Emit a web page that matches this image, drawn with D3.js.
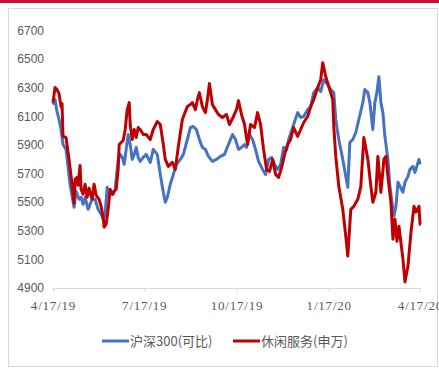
<!DOCTYPE html>
<html>
<head>
<meta charset="utf-8">
<script src="https://cdn.jsdelivr.net/npm/d3@7"></script>
<style>
  body { margin: 0; background: #fff; }
  svg { display: block; }
</style>
</head>
<body>
<div id="chart"></div>
<script>
// data, days counted from 4/17/19
const startDate = new Date(2019, 3, 17);
const yTicks = [4900, 5100, 5300, 5500, 5700, 5900, 6100, 6300, 6500, 6700];
const xTicks = ["2019-04-17", "2019-07-17", "2019-10-17", "2020-01-17", "2020-04-17"];
const seriesNames = ["沪深300(可比)", "休闲服务(申万)"];
const seriesColors = ["#4472c4", "#c00000"];

const hs300Days = [0,2,4,6,8,10,13,17,21,23,26,28,30,32,35,37,39,42,45,48,50,52,54,56,58,60,62,65,67,69,71,73,75,77,79,81,83,85,87,90,93,97,100,104,107,110,112,114,117,120,123,127,130,134,137,140,143,146,149,152,155,159,163,167,171,175,179,182,185,188,191,193,196,199,202,205,209,212,215,218,221,224,227,230,233,235,240,244,247,250,254,257,260,264,267,270,274,277,280,282,285,289,292,294,296,299,302,305,309,311,314,316,319,321,323,325,327,329,331,334,336,338,340,342,344,346,349,351,354,356,359,361,364,365,366];
const hs300Vals = [6182,6217,6133,6078,6008,5903,5869,5625,5464,5576,5520,5534,5485,5534,5450,5485,5520,5520,5450,5416,5381,5416,5604,5555,5576,5555,5590,5799,5834,5813,5764,5869,5973,5903,5799,5834,5883,5813,5785,5813,5834,5778,5869,5834,5694,5569,5499,5534,5625,5694,5764,5799,5834,5938,6022,6029,6008,5938,5883,5869,5820,5785,5799,5820,5834,5903,5973,5938,5869,5883,5903,5883,5973,5938,5869,5785,5729,5694,5799,5813,5764,5729,5764,5883,5869,5938,6043,6126,6092,6099,6147,6168,6266,6301,6273,6356,6322,6287,6266,6078,5938,5799,5680,5604,5917,5938,5987,6078,6196,6287,6266,6196,6008,6196,6266,6377,6196,6126,5959,5799,5611,5499,5402,5471,5639,5611,5569,5639,5680,5729,5750,5708,5778,5799,5764];

const leisureDays = [0,2,4,6,8,9,10,13,16,19,21,22,24,25,27,28,30,32,34,36,37,39,41,43,46,48,50,51,53,55,57,59,61,63,65,66,68,70,72,74,76,77,79,81,83,85,87,90,93,97,100,104,107,110,112,115,117,119,122,125,129,132,134,137,139,142,144,146,149,152,154,156,159,162,165,169,173,176,180,183,185,188,191,194,197,201,204,207,210,213,216,219,222,225,228,231,234,237,240,244,247,250,254,257,260,264,267,269,272,275,279,280,282,285,289,292,294,297,300,304,307,310,314,317,319,322,324,327,330,332,334,337,339,341,343,345,349,351,354,357,360,362,365,366,367];
const leisureVals = [6196,6301,6287,6259,6168,6189,5959,5952,5799,5625,5492,5660,5673,5618,5757,5590,5555,5625,5534,5597,5569,5520,5625,5548,5520,5471,5395,5325,5346,5450,5590,5555,5576,5590,5729,5903,5917,5931,6008,6147,6196,6043,5938,6008,5952,6022,6008,5973,5973,5938,6008,6064,6043,5903,5799,5750,5764,5778,5729,5889,6078,6133,6168,6182,6196,6147,6217,6266,6168,6126,6217,6329,6182,6147,6113,6092,6113,6043,6099,6147,6210,6113,6043,5903,6043,6022,6126,6043,5869,5729,5715,5799,5694,5673,5743,5834,5903,5938,6022,5959,6008,6057,6099,6168,6217,6301,6356,6475,6377,6308,6217,6029,5820,5611,5450,5262,5123,5450,5471,5520,5611,5952,5799,5611,5499,5569,5820,5569,5799,5820,5680,5499,5241,5381,5227,5332,5102,4942,5053,5290,5471,5430,5471,5346,5346];

const W = 439, H = 369;
const svg = d3.select("#chart").append("svg")
  .attr("width", W)
  .attr("height", H);

// top red rule and the outer frame
svg.append("rect").attr("x", 0).attr("y", 0).attr("width", W).attr("height", 3).attr("fill", "#c8102e");
svg.append("rect")
  .attr("x", 8.5).attr("y", 8.5)
  .attr("width", 429).attr("height", 358)
  .attr("fill", "none").attr("stroke", "#d9d9d9");

const dayToDate = d => d3.timeDay.offset(startDate, d);
const parse = d3.timeParse("%Y-%m-%d");

const x = d3.scaleTime()
  .domain([startDate, parse("2020-04-17")])
  .range([53, 420]);
const y = d3.scaleLinear()
  .domain([4900, 6700])
  .range([288, 30.5]);

// y labels (no axis line)
svg.append("g")
  .selectAll("text")
  .data(yTicks)
  .join("text")
    .attr("x", 44)
    .attr("y", d => y(d))
    .attr("dy", "0.35em")
    .attr("text-anchor", "end")
    .style("font-family", "'Liberation Sans', Arial, sans-serif")
    .style("font-size", "12px")
    .style("fill", "#595959")
    .text(d => d);

// x axis
const xAxis = svg.append("g")
  .attr("transform", "translate(0,288)")
  .call(d3.axisBottom(x)
    .tickValues(xTicks.map(parse))
    .tickFormat(d3.timeFormat("%-m/%-d/%y"))
    .tickSize(4)
    .tickSizeOuter(0));
xAxis.select(".domain").attr("stroke", "#d9d9d9");
xAxis.selectAll(".tick line").attr("stroke", "#d9d9d9");
xAxis.selectAll(".tick text")
  .attr("y", 13)
  .style("font-family", "'Liberation Serif', 'DejaVu Serif', serif")
  .style("font-size", "13px")
  .style("letter-spacing", "0.8px")
  .style("fill", "#595959");

const line = d3.line()
  .x(d => x(dayToDate(d[0])))
  .y(d => y(d[1]));

const series = [
  d3.zip(hs300Days, hs300Vals),
  d3.zip(leisureDays, leisureVals)
];

svg.append("g")
  .selectAll("path")
  .data(series)
  .join("path")
    .attr("fill", "none")
    .attr("stroke", (d, i) => seriesColors[i])
    .attr("stroke-width", 3)
    .attr("stroke-linejoin", "round")
    .attr("d", line);

// legend
const legendX = [102, 233];
const legend = svg.append("g")
  .selectAll("g")
  .data(seriesNames)
  .join("g")
    .attr("transform", (d, i) => `translate(${legendX[i]},341)`);
legend.append("line")
  .attr("x1", 0).attr("x2", 27)
  .attr("stroke", (d, i) => seriesColors[i])
  .attr("stroke-width", 3);
legend.append("text")
  .attr("x", 28)
  .attr("dy", "0.35em")
  .style("font-family", "'Noto Sans CJK SC', sans-serif")
  .style("font-size", "13px")
  .style("fill", "#595959")
  .text(d => d);
</script>
</body>
</html>
